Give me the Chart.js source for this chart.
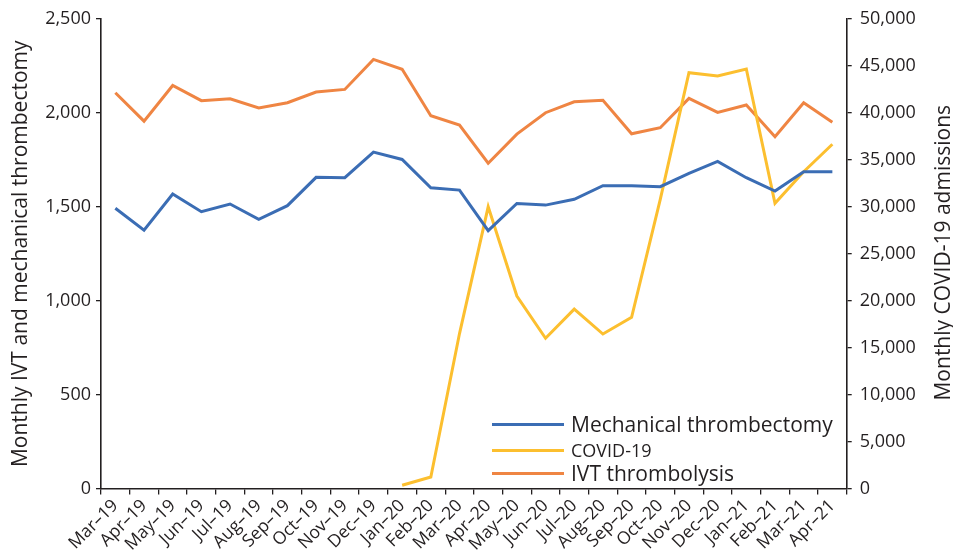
<!DOCTYPE html>
<html>
<head>
<meta charset="utf-8">
<script src="https://cdn.jsdelivr.net/npm/chart.js@4/dist/chart.umd.min.js"></script>
<style>
  html, body { margin: 0; padding: 0; background: #ffffff; }
  #wrap { position: relative; width: 953px; height: 557px; }
  #legend { position: absolute; left: 492px; top: 0; font-family: 'Open Sans', sans-serif; color: #231f20; }
  .li { position: absolute; left: 0; white-space: nowrap; display: flex; align-items: center; transform: translateY(-50%); }
  .sw { display: inline-block; width: 72px; height: 3px; margin-right: 7px; }
</style>
</head>
<body>
<div id="wrap">
  <canvas id="c" width="953" height="557"></canvas>
  <div id="legend"></div>
</div>
<script>
// ---- data ----
const months = ['Mar–19','Apr–19','May–19','Jun–19','Jul–19','Aug–19','Sep–19','Oct–19','Nov–19','Dec–19',
                'Jan–20','Feb–20','Mar–20','Apr–20','May–20','Jun–20','Jul–20','Aug–20','Sep–20','Oct–20',
                'Nov–20','Dec–20','Jan–21','Feb–21','Mar–21','Apr–21'];
const mechanical = [1492,1376,1568,1474,1515,1433,1506,1657,1655,1791,
                    1752,1601,1589,1373,1518,1509,1540,1612,1612,1607,
                    1678,1742,1655,1584,1687,1687];
const covid = [null,null,null,null,null,null,null,null,null,null,
               340,1220,16500,30000,20500,16000,19100,16450,18230,30800,
               44280,43930,44680,30370,33740,36660];
const ivt = [2107,1956,2146,2065,2075,2026,2054,2111,2125,2285,
             2232,1985,1935,1732,1887,2001,2059,2067,1889,1921,
             2077,2003,2042,1873,2054,1950];
const seriesNames = ['Mechanical thrombectomy','COVID-19','IVT thrombolysis'];
const leftAxisTitle = 'Monthly IVT and mechanical thrombectomy';
const rightAxisTitle = 'Monthly COVID-19 admissions';

// ---- styles ----
const INK = '#231f20';
const colors = ['#3b6db4', '#fcbf2f', '#ef8543'];
const legendFont = [21, 18, 21];
const legendRowY = [424, 450, 473];

Chart.defaults.font.family = "'Open Sans', sans-serif";
Chart.defaults.color = INK;

const rightTitlePlugin = {
  id: 'rightTitle',
  afterDraw(chart) {
    const s = chart.scales.y2;
    const ctx = chart.ctx;
    ctx.save();
    ctx.font = "21px 'Open Sans', sans-serif";
    ctx.fillStyle = INK;
    ctx.textAlign = 'center';
    ctx.textBaseline = 'middle';
    ctx.translate(944, (chart.chartArea.top + chart.chartArea.bottom) / 2 - 1);
    ctx.rotate(-Math.PI / 2);
    ctx.fillText(rightAxisTitle, 0, 0);
    ctx.restore();
  }
};

const chart = new Chart(document.getElementById('c'), {
  type: 'line',
  data: {
    labels: months,
    datasets: [
      { label: seriesNames[0], data: mechanical, yAxisID: 'y', borderColor: colors[0], backgroundColor: colors[0] },
      { label: seriesNames[1], data: covid, yAxisID: 'y2', borderColor: colors[1], backgroundColor: colors[1] },
      { label: seriesNames[2], data: ivt, yAxisID: 'y', borderColor: colors[2], backgroundColor: colors[2] }
    ]
  },
  options: {
    responsive: false,
    animation: false,
    locale: 'en-US',
    layout: { padding: { top: 19, left: 0, right: 0, bottom: 0 } },
    elements: {
      line: { borderWidth: 3, tension: 0 },
      point: { radius: 0, hoverRadius: 0 }
    },
    plugins: { legend: { display: false }, tooltip: { enabled: false } },
    scales: {
      x: {
        type: 'category',
        offset: true,
        grid: { offset: true, drawOnChartArea: false, drawTicks: true, tickLength: 6, color: INK, lineWidth: 1.3 },
        border: { display: true, color: INK, width: 1.6 },
        ticks: { autoSkip: false, maxRotation: 45, minRotation: 45, padding: 1, color: INK,
                 font: { size: 17.5 } },
        afterFit(s) { s.height = 557 - 488.5; }
      },
      y: {
        position: 'left',
        min: 0, max: 2500,
        ticks: { stepSize: 500, padding: 5, color: INK, font: { size: 18 } },
        grid: { drawOnChartArea: false, drawTicks: true, tickLength: 5, color: INK, lineWidth: 1.3 },
        border: { display: true, color: INK, width: 1.6 },
        title: { display: true, text: leftAxisTitle, color: INK, font: { size: 21 }, padding: { top: 8, bottom: 0 } },
        afterFit(s) { s.width = 101; }
      },
      y2: {
        position: 'right',
        min: 0, max: 50000,
        ticks: { stepSize: 5000, padding: 8, color: INK, font: { size: 18 } },
        grid: { drawOnChartArea: false, drawTicks: true, tickLength: 5, color: INK, lineWidth: 1.3 },
        border: { display: true, color: INK, width: 1.6 },
        afterFit(s) { s.width = 953 - 846.7; }
      }
    }
  },
  plugins: [rightTitlePlugin]
});

// HTML legend built from the chart's datasets
const legendEl = document.getElementById('legend');
chart.data.datasets.forEach((ds, i) => {
  const row = document.createElement('div');
  row.className = 'li';
  row.style.top = legendRowY[i] + 'px';
  row.style.fontSize = legendFont[i] + 'px';
  const sw = document.createElement('span');
  sw.className = 'sw';
  sw.style.background = ds.borderColor;
  const tx = document.createElement('span');
  tx.textContent = ds.label;
  row.appendChild(sw);
  row.appendChild(tx);
  legendEl.appendChild(row);
});
</script>
</body>
</html>
